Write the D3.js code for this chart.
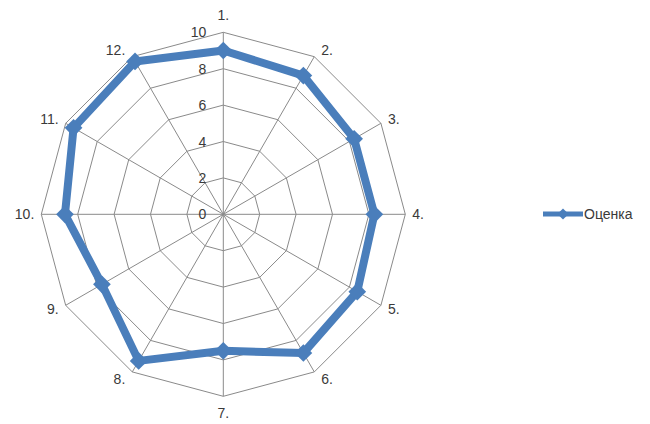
<!DOCTYPE html>
<html><head><meta charset="utf-8">
<script src="https://cdn.jsdelivr.net/npm/d3@7"></script>
<style>body{margin:0;background:#fff}svg{display:block}text{font-family:"Liberation Sans",Arial,sans-serif;fill:#3a3a3a}</style>
</head><body><svg id="c" width="650" height="424"></svg>
<script>
const categories = ["1.","2.","3.","4.","5.","6.","7.","8.","9.","10.","11.","12."];
const values = [9.0, 8.8, 8.3, 8.3, 8.5, 8.8, 7.5, 9.3, 7.7, 8.7, 9.5, 9.7];
const ticks = [0, 2, 4, 6, 8, 10];
const seriesName = "Оценка";

const svg = d3.select("#c");
const cx = 223.3, cy = 214.3, R = 182;
const r = d3.scaleLinear().domain([0, 10]).range([0, R]);
const n = categories.length;
const ang = d3.scaleLinear().domain([0, n]).range([0, 2 * Math.PI]);
const pt = (i, v) => [cx + r(v) * Math.sin(ang(i)), cy - r(v) * Math.cos(ang(i))];

const grid = svg.append("g").attr("stroke", "#8a8a8a").attr("stroke-width", 1).attr("fill", "none");
ticks.filter(t => t > 0).forEach(t => {
  grid.append("path").attr("d", d3.line()(d3.range(n).map(i => pt(i, t))) + "Z");
});
d3.range(n).forEach(i => {
  const [x, y] = pt(i, 10);
  grid.append("line").attr("x1", cx).attr("y1", cy).attr("x2", x).attr("y2", y);
});

// tick labels
svg.append("g").selectAll("text").data(ticks).join("text")
  .attr("x", cx - 17).attr("y", d => cy - r(d) + 5)
  .attr("text-anchor", "end").attr("font-size", 14).text(d => d);

// category labels
svg.append("g").selectAll("text").data(categories).join("text")
  .each(function(d, i) {
    const s = Math.sin(ang(i)), c = Math.cos(ang(i));
    const [x, y] = pt(i, 10);
    const t = d3.select(this);
    if (Math.abs(s) < 0.1) {
      t.attr("x", x).attr("y", y - 17 * c + 5).attr("text-anchor", "middle");
    } else {
      t.attr("x", x + 7 * Math.sign(s)).attr("y", y - 8 * c + 5)
       .attr("text-anchor", s > 0 ? "start" : "end");
    }
  })
  .attr("font-size", 14).text(d => d);

const color = "#4a7ebb";
svg.append("path")
  .attr("d", d3.line()(values.map((v, i) => pt(i, v))) + "Z")
  .attr("fill", "none").attr("stroke", color).attr("stroke-width", 8).attr("stroke-linejoin", "round");
const diamond = d3.symbol().type(d3.symbolDiamond2).size(200);
svg.append("g").selectAll("path").data(values).join("path")
  .attr("d", diamond)
  .attr("transform", (v, i) => `translate(${pt(i, v)})`)
  .attr("fill", color);

// legend
const lg = svg.append("g");
lg.append("line").attr("x1", 543).attr("x2", 583).attr("y1", 214).attr("y2", 214)
  .attr("stroke", color).attr("stroke-width", 5);
lg.append("path").attr("d", d3.symbol().type(d3.symbolDiamond2).size(80)).attr("transform", "translate(563,214)").attr("fill", color);
lg.append("text").attr("x", 584).attr("y", 219).attr("font-size", 14).text(seriesName);
</script></body></html>
